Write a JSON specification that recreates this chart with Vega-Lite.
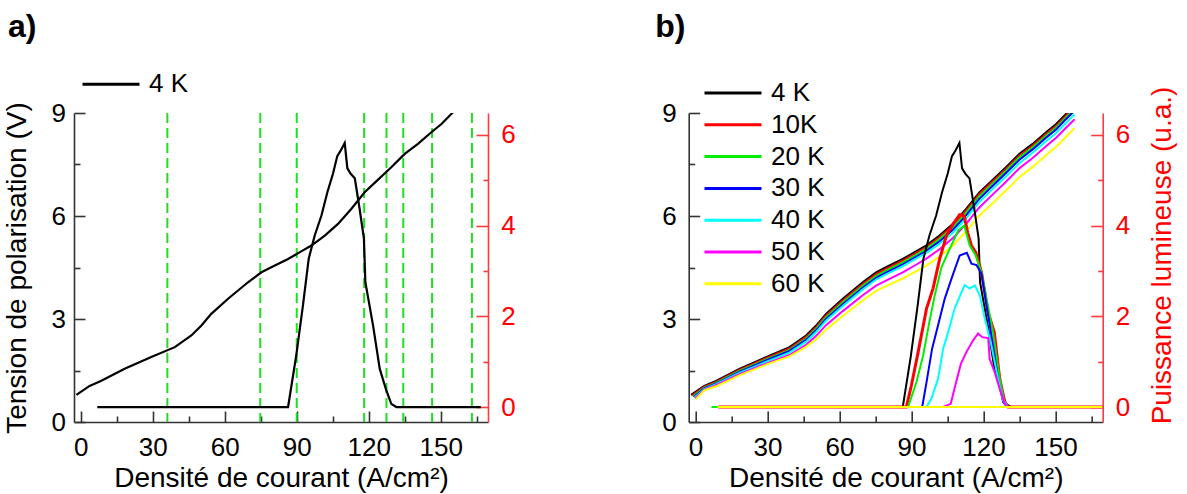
{
"$schema": "https://vega.github.io/schema/vega-lite/v6.json",
"background": "white",
"padding": {"left": 3, "top": 10, "right": 5, "bottom": 2},
"config": {
  "font": "Liberation Sans",
  "view": {"stroke": null},
  "axis": {"grid": false, "labelFontSize": 26, "titleFontSize": 28, "titleFontWeight": "normal", "labelColor": "#000000", "titleColor": "#000000", "domainWidth": 1.6, "tickWidth": 1.6, "labelFlush": false, "labelOverlap": false, "domainColor": "#333333", "tickColor": "#333333"},
  "legend": {"orient": "none", "symbolType": "stroke", "symbolSize": 3249, "symbolStrokeWidth": 3, "labelFontSize": 26, "labelOffset": 8, "clipHeight": 24, "rowPadding": 5.8, "padding": 0, "labelColor": "#000000"},
  "title": {"fontSize": 32, "fontWeight": "bold", "anchor": "start", "frame": "group", "color": "#000000"}
},
"datasets": {
  "lines": [{"J":36.1},{"J":74.8},{"J":90.0},{"J":118.1},{"J":127.4},{"J":134.4},{"J":146.4},{"J":163.0}],
  "volt": [
    {"T":"4 K","J":-1.8,"V":0.79},{"T":"4 K","J":3.7,"V":1.05},{"T":"4 K","J":8.6,"V":1.20},{"T":"4 K","J":18.3,"V":1.55},{"T":"4 K","J":29.4,"V":1.89},{"T":"4 K","J":39.2,"V":2.18},{"T":"4 K","J":46.1,"V":2.52},{"T":"4 K","J":50.3,"V":2.81},{"T":"4 K","J":54.4,"V":3.15},{"T":"4 K","J":61.4,"V":3.59},{"T":"4 K","J":69.7,"V":4.07},{"T":"4 K","J":75.3,"V":4.36},{"T":"4 K","J":79.4,"V":4.51},{"T":"4 K","J":86.4,"V":4.75},{"T":"4 K","J":91.9,"V":4.97},{"T":"4 K","J":96.1,"V":5.14},{"T":"4 K","J":101.7,"V":5.43},{"T":"4 K","J":107.2,"V":5.77},{"T":"4 K","J":112.8,"V":6.21},{"T":"4 K","J":118.3,"V":6.69},{"T":"4 K","J":123.9,"V":7.06},{"T":"4 K","J":129.4,"V":7.42},{"T":"4 K","J":135.0,"V":7.81},{"T":"4 K","J":140.5,"V":8.10},{"T":"4 K","J":146.1,"V":8.44},{"T":"4 K","J":150.3,"V":8.68},{"T":"4 K","J":154.4,"V":8.97},{"T":"4 K","J":158.0,"V":9.22},
    {"T":"10K","J":-1.4,"V":0.77},{"T":"10K","J":3.7,"V":1.03},{"T":"10K","J":8.6,"V":1.17},{"T":"10K","J":18.3,"V":1.52},{"T":"10K","J":29.4,"V":1.86},{"T":"10K","J":39.2,"V":2.14},{"T":"10K","J":46.1,"V":2.48},{"T":"10K","J":50.3,"V":2.76},{"T":"10K","J":54.4,"V":3.10},{"T":"10K","J":61.4,"V":3.54},{"T":"10K","J":69.7,"V":4.02},{"T":"10K","J":75.3,"V":4.31},{"T":"10K","J":79.4,"V":4.46},{"T":"10K","J":86.4,"V":4.70},{"T":"10K","J":91.9,"V":4.92},{"T":"10K","J":96.1,"V":5.09},{"T":"10K","J":101.7,"V":5.38},{"T":"10K","J":107.2,"V":5.72},{"T":"10K","J":112.8,"V":6.16},{"T":"10K","J":118.3,"V":6.64},{"T":"10K","J":123.9,"V":7.01},{"T":"10K","J":129.4,"V":7.37},{"T":"10K","J":135.0,"V":7.76},{"T":"10K","J":140.5,"V":8.05},{"T":"10K","J":146.1,"V":8.39},{"T":"10K","J":150.3,"V":8.63},{"T":"10K","J":154.4,"V":8.92},{"T":"10K","J":158.0,"V":9.17},
    {"T":"20 K","J":-1.0,"V":0.75},{"T":"20 K","J":3.7,"V":1.00},{"T":"20 K","J":8.6,"V":1.14},{"T":"20 K","J":18.3,"V":1.49},{"T":"20 K","J":29.4,"V":1.82},{"T":"20 K","J":39.2,"V":2.10},{"T":"20 K","J":46.1,"V":2.43},{"T":"20 K","J":50.3,"V":2.72},{"T":"20 K","J":54.4,"V":3.05},{"T":"20 K","J":61.4,"V":3.49},{"T":"20 K","J":69.7,"V":3.97},{"T":"20 K","J":75.3,"V":4.26},{"T":"20 K","J":79.4,"V":4.41},{"T":"20 K","J":86.4,"V":4.65},{"T":"20 K","J":91.9,"V":4.87},{"T":"20 K","J":96.1,"V":5.04},{"T":"20 K","J":101.7,"V":5.33},{"T":"20 K","J":107.2,"V":5.66},{"T":"20 K","J":112.8,"V":6.10},{"T":"20 K","J":118.3,"V":6.58},{"T":"20 K","J":123.9,"V":6.95},{"T":"20 K","J":129.4,"V":7.32},{"T":"20 K","J":135.0,"V":7.71},{"T":"20 K","J":140.5,"V":8.00},{"T":"20 K","J":146.1,"V":8.34},{"T":"20 K","J":150.3,"V":8.58},{"T":"20 K","J":154.4,"V":8.87},{"T":"20 K","J":158.0,"V":9.12},
    {"T":"30 K","J":-0.7,"V":0.73},{"T":"30 K","J":3.7,"V":0.98},{"T":"30 K","J":8.6,"V":1.12},{"T":"30 K","J":18.3,"V":1.46},{"T":"30 K","J":29.4,"V":1.79},{"T":"30 K","J":39.2,"V":2.07},{"T":"30 K","J":46.1,"V":2.39},{"T":"30 K","J":50.3,"V":2.67},{"T":"30 K","J":54.4,"V":3.00},{"T":"30 K","J":61.4,"V":3.43},{"T":"30 K","J":69.7,"V":3.91},{"T":"30 K","J":75.3,"V":4.20},{"T":"30 K","J":79.4,"V":4.35},{"T":"30 K","J":86.4,"V":4.59},{"T":"30 K","J":91.9,"V":4.81},{"T":"30 K","J":96.1,"V":4.98},{"T":"30 K","J":101.7,"V":5.26},{"T":"30 K","J":107.2,"V":5.59},{"T":"30 K","J":112.8,"V":6.02},{"T":"30 K","J":118.3,"V":6.50},{"T":"30 K","J":123.9,"V":6.88},{"T":"30 K","J":129.4,"V":7.25},{"T":"30 K","J":135.0,"V":7.64},{"T":"30 K","J":140.5,"V":7.94},{"T":"30 K","J":146.1,"V":8.28},{"T":"30 K","J":150.3,"V":8.52},{"T":"30 K","J":154.4,"V":8.82},{"T":"30 K","J":158.0,"V":9.07},
    {"T":"40 K","J":-0.4,"V":0.71},{"T":"40 K","J":3.7,"V":0.96},{"T":"40 K","J":8.6,"V":1.10},{"T":"40 K","J":18.3,"V":1.43},{"T":"40 K","J":29.4,"V":1.75},{"T":"40 K","J":39.2,"V":2.02},{"T":"40 K","J":46.1,"V":2.34},{"T":"40 K","J":50.3,"V":2.62},{"T":"40 K","J":54.4,"V":2.95},{"T":"40 K","J":61.4,"V":3.38},{"T":"40 K","J":69.7,"V":3.86},{"T":"40 K","J":75.3,"V":4.15},{"T":"40 K","J":79.4,"V":4.30},{"T":"40 K","J":86.4,"V":4.54},{"T":"40 K","J":91.9,"V":4.76},{"T":"40 K","J":96.1,"V":4.92},{"T":"40 K","J":101.7,"V":5.19},{"T":"40 K","J":107.2,"V":5.51},{"T":"40 K","J":112.8,"V":5.93},{"T":"40 K","J":118.3,"V":6.41},{"T":"40 K","J":123.9,"V":6.79},{"T":"40 K","J":129.4,"V":7.15},{"T":"40 K","J":135.0,"V":7.54},{"T":"40 K","J":140.5,"V":7.84},{"T":"40 K","J":146.1,"V":8.18},{"T":"40 K","J":150.3,"V":8.42},{"T":"40 K","J":154.4,"V":8.71},{"T":"40 K","J":158.0,"V":8.96},
    {"T":"50 K","J":-0.1,"V":0.69},{"T":"50 K","J":3.7,"V":0.94},{"T":"50 K","J":8.6,"V":1.07},{"T":"50 K","J":18.3,"V":1.39},{"T":"50 K","J":29.4,"V":1.70},{"T":"50 K","J":39.2,"V":1.95},{"T":"50 K","J":46.1,"V":2.25},{"T":"50 K","J":50.3,"V":2.51},{"T":"50 K","J":54.4,"V":2.82},{"T":"50 K","J":61.4,"V":3.23},{"T":"50 K","J":69.7,"V":3.69},{"T":"50 K","J":75.3,"V":3.97},{"T":"50 K","J":79.4,"V":4.12},{"T":"50 K","J":86.4,"V":4.36},{"T":"50 K","J":91.9,"V":4.58},{"T":"50 K","J":96.1,"V":4.75},{"T":"50 K","J":101.7,"V":5.03},{"T":"50 K","J":107.2,"V":5.35},{"T":"50 K","J":112.8,"V":5.77},{"T":"50 K","J":118.3,"V":6.25},{"T":"50 K","J":123.9,"V":6.63},{"T":"50 K","J":129.4,"V":7.00},{"T":"50 K","J":135.0,"V":7.39},{"T":"50 K","J":140.5,"V":7.69},{"T":"50 K","J":146.1,"V":8.03},{"T":"50 K","J":150.3,"V":8.28},{"T":"50 K","J":154.4,"V":8.57},{"T":"50 K","J":158.0,"V":8.82},
    {"T":"60 K","J":0.2,"V":0.67},{"T":"60 K","J":3.7,"V":0.92},{"T":"60 K","J":8.6,"V":1.04},{"T":"60 K","J":18.3,"V":1.36},{"T":"60 K","J":29.4,"V":1.67},{"T":"60 K","J":39.2,"V":1.91},{"T":"60 K","J":46.1,"V":2.19},{"T":"60 K","J":50.3,"V":2.41},{"T":"60 K","J":54.4,"V":2.69},{"T":"60 K","J":61.4,"V":3.09},{"T":"60 K","J":69.7,"V":3.54},{"T":"60 K","J":75.3,"V":3.82},{"T":"60 K","J":79.4,"V":3.96},{"T":"60 K","J":86.4,"V":4.18},{"T":"60 K","J":91.9,"V":4.39},{"T":"60 K","J":96.1,"V":4.55},{"T":"60 K","J":101.7,"V":4.82},{"T":"60 K","J":107.2,"V":5.13},{"T":"60 K","J":112.8,"V":5.55},{"T":"60 K","J":118.3,"V":6.01},{"T":"60 K","J":123.9,"V":6.37},{"T":"60 K","J":129.4,"V":6.74},{"T":"60 K","J":135.0,"V":7.13},{"T":"60 K","J":140.5,"V":7.43},{"T":"60 K","J":146.1,"V":7.77},{"T":"60 K","J":150.3,"V":8.02},{"T":"60 K","J":154.4,"V":8.31},{"T":"60 K","J":158.0,"V":8.56}
  ],
  "pow": [
    {"T":"4 K","J":6.9,"P":0},{"T":"4 K","J":86.4,"P":0},{"T":"4 K","J":89.8,"P":1.14},{"T":"4 K","J":92.6,"P":2.24},{"T":"4 K","J":95.0,"P":3.27},{"T":"4 K","J":97.5,"P":3.78},{"T":"4 K","J":100.3,"P":4.22},{"T":"4 K","J":102.8,"P":4.74},{"T":"4 K","J":105.1,"P":5.14},{"T":"4 K","J":106.9,"P":5.53},{"T":"4 K","J":108.3,"P":5.65},{"T":"4 K","J":110.0,"P":5.82},{"T":"4 K","J":111.1,"P":5.26},{"T":"4 K","J":112.5,"P":5.14},{"T":"4 K","J":114.2,"P":5.04},{"T":"4 K","J":116.2,"P":4.37},{"T":"4 K","J":118.0,"P":3.71},{"T":"4 K","J":118.6,"P":2.75},{"T":"4 K","J":121.8,"P":1.80},{"T":"4 K","J":124.6,"P":0.84},{"T":"4 K","J":127.3,"P":0.37},{"T":"4 K","J":129.4,"P":0.07},{"T":"4 K","J":131.5,"P":0},{"T":"4 K","J":166.7,"P":0},
    {"T":"10K","J":9.5,"P":0},{"T":"10K","J":87.9,"P":0},{"T":"10K","J":90.0,"P":0.48},{"T":"10K","J":92.8,"P":1.21},{"T":"10K","J":96.3,"P":2.17},{"T":"10K","J":99.0,"P":2.61},{"T":"10K","J":101.8,"P":3.27},{"T":"10K","J":104.6,"P":3.78},{"T":"10K","J":107.4,"P":4.04},{"T":"10K","J":110.1,"P":4.24},{"T":"10K","J":112.0,"P":4.21},{"T":"10K","J":113.4,"P":3.85},{"T":"10K","J":115.0,"P":3.56},{"T":"10K","J":116.8,"P":3.41},{"T":"10K","J":119.2,"P":2.97},{"T":"10K","J":121.9,"P":2.09},{"T":"10K","J":124.5,"P":1.65},{"T":"10K","J":126.8,"P":0.62},{"T":"10K","J":128.9,"P":0.11},{"T":"10K","J":130.3,"P":0},{"T":"10K","J":169.5,"P":0},
    {"T":"20 K","J":6.7,"P":0},{"T":"20 K","J":88.6,"P":0},{"T":"20 K","J":92.1,"P":0.55},{"T":"20 K","J":94.9,"P":1.14},{"T":"20 K","J":97.2,"P":1.80},{"T":"20 K","J":99.7,"P":2.46},{"T":"20 K","J":102.5,"P":3.08},{"T":"20 K","J":106.0,"P":3.49},{"T":"20 K","J":109.5,"P":3.89},{"T":"20 K","J":112.0,"P":4.00},{"T":"20 K","J":114.3,"P":3.56},{"T":"20 K","J":116.8,"P":3.34},{"T":"20 K","J":119.2,"P":2.97},{"T":"20 K","J":121.3,"P":2.39},{"T":"20 K","J":124.0,"P":1.65},{"T":"20 K","J":126.8,"P":0.62},{"T":"20 K","J":128.9,"P":0.05},{"T":"20 K","J":130.3,"P":0},{"T":"20 K","J":169.5,"P":0},
    {"T":"30 K","J":9.5,"P":0},{"T":"30 K","J":94.5,"P":0},{"T":"30 K","J":96.3,"P":0.55},{"T":"30 K","J":98.6,"P":1.28},{"T":"30 K","J":101.1,"P":1.80},{"T":"30 K","J":103.9,"P":2.39},{"T":"30 K","J":106.7,"P":2.83},{"T":"30 K","J":110.1,"P":3.34},{"T":"30 K","J":113.1,"P":3.40},{"T":"30 K","J":115.0,"P":3.16},{"T":"30 K","J":117.1,"P":3.13},{"T":"30 K","J":119.2,"P":2.94},{"T":"30 K","J":121.3,"P":2.24},{"T":"30 K","J":124.0,"P":1.36},{"T":"30 K","J":126.1,"P":0.62},{"T":"30 K","J":128.2,"P":0.11},{"T":"30 K","J":130.3,"P":0},{"T":"30 K","J":169.5,"P":0},
    {"T":"40 K","J":9.5,"P":0},{"T":"40 K","J":96.3,"P":0},{"T":"40 K","J":98.3,"P":0.18},{"T":"40 K","J":101.1,"P":0.62},{"T":"40 K","J":103.2,"P":1.28},{"T":"40 K","J":105.3,"P":1.65},{"T":"40 K","J":108.0,"P":2.17},{"T":"40 K","J":110.9,"P":2.53},{"T":"40 K","J":112.2,"P":2.69},{"T":"40 K","J":114.3,"P":2.61},{"T":"40 K","J":116.4,"P":2.68},{"T":"40 K","J":118.5,"P":2.46},{"T":"40 K","J":120.6,"P":1.95},{"T":"40 K","J":123.3,"P":1.36},{"T":"40 K","J":126.1,"P":0.62},{"T":"40 K","J":128.2,"P":0.15},{"T":"40 K","J":130.3,"P":0},{"T":"40 K","J":169.5,"P":0},
    {"T":"50 K","J":9.5,"P":0},{"T":"50 K","J":103.2,"P":0},{"T":"50 K","J":106.4,"P":0.07},{"T":"50 K","J":108.3,"P":0.48},{"T":"50 K","J":110.6,"P":0.95},{"T":"50 K","J":112.9,"P":1.21},{"T":"50 K","J":115.7,"P":1.47},{"T":"50 K","J":117.8,"P":1.62},{"T":"50 K","J":119.5,"P":1.54},{"T":"50 K","J":122.0,"P":1.52},{"T":"50 K","J":122.6,"P":1.06},{"T":"50 K","J":124.7,"P":0.77},{"T":"50 K","J":126.8,"P":0.40},{"T":"50 K","J":128.9,"P":0.07},{"T":"50 K","J":130.3,"P":0},{"T":"50 K","J":169.5,"P":0},
    {"T":"60 K","J":9.2,"P":0},{"T":"60 K","J":169.5,"P":0}
  ]
},
"spacing": 200.7,
"bounds": "flush",
"resolve": {"scale": {"color": "independent"}},
"hconcat": [
  {
    "width": 414, "height": 309,
    "title": {"text": "a)", "dx": -66, "offset": 28.7},
    "encoding": {"x": {"field": "J", "type": "quantitative", "scale": {"domain": [-2.8, 169.7], "nice": false, "zero": false},
      "axis": {"values": [0,15,30,45,60,75,90,105,120,135,150,165], "labelExpr": "datum.value % 30 === 0 ? format(datum.value, 'd') : ''", "tickSize": -11, "tickDash": {"condition": {"test": "datum.value % 30 === 0", "value": [20, 1]}, "value": [6, 30]}, "labelPadding": 23, "title": "Densité de courant (A/cm²)", "titlePadding": 4}}},
    "layer": [
      {"data": {"name": "lines"}, "mark": {"type": "rule", "color": "#22dd22", "strokeWidth": 2, "strokeDash": [10, 5]}, "encoding": {}},
      {"data": {"name": "volt"}, "transform": [{"filter": "datum.T === '4 K'"}], "mark": {"type": "line", "strokeWidth": 2.2, "clip": true},
       "encoding": {
         "y": {"field": "V", "type": "quantitative", "scale": {"domain": [0, 9], "nice": false, "zero": false},
           "axis": {"orient": "left", "values": [0,1.5,3,4.5,6,7.5,9], "labelExpr": "datum.value % 3 === 0 ? format(datum.value, 'd') : ''", "tickSize": -11, "tickDash": {"condition": {"test": "datum.value % 3 === 0", "value": [20, 1]}, "value": [6, 30]}, "labelPadding": 19.6, "title": "Tension de polarisation (V)", "titlePadding": 19}},
         "color": {"field": "T", "type": "nominal", "scale": {"domain": ["4 K"], "range": ["#000000"]}, "legend": {"title": null, "orient": "none", "legendX": 7, "legendY": -40.7}}
       }},
      {"data": {"name": "pow"}, "transform": [{"filter": "datum.T === '4 K'"}], "mark": {"type": "line", "strokeWidth": 2.2},
       "encoding": {
         "y": {"field": "P", "type": "quantitative", "scale": {"domain": [-0.33, 6.48], "nice": false, "zero": false},
           "axis": {"orient": "right", "values": [0,1,2,3,4,5,6], "labelExpr": "datum.value % 2 === 0 ? format(datum.value, 'd') : ''", "tickSize": -12, "tickDash": {"condition": {"test": "datum.value % 2 === 0", "value": [20, 1]}, "value": [5, 30]}, "labelPadding": 24.7, "title": null, "domainColor": "#ff3b3b", "tickColor": "#ff3b3b", "labelColor": "#ff0000"}},
         "color": {"field": "T", "type": "nominal", "scale": {"domain": ["4 K"], "range": ["#000000"]}, "legend": {"title": null, "orient": "none", "legendX": 7, "legendY": -40.7}}
       }}
    ],
    "resolve": {"scale": {"y": "independent"}}
  },
  {
    "width": 414, "height": 309,
    "title": {"text": "b)", "dx": -33.5, "offset": 37.4},
    "encoding": {"x": {"field": "J", "type": "quantitative", "scale": {"domain": [-2.8, 169.7], "nice": false, "zero": false},
      "axis": {"values": [0,15,30,45,60,75,90,105,120,135,150,165], "labelExpr": "datum.value % 30 === 0 ? format(datum.value, 'd') : ''", "tickSize": -11, "tickDash": {"condition": {"test": "datum.value % 30 === 0", "value": [20, 1]}, "value": [6, 30]}, "labelPadding": 23, "title": "Densité de courant (A/cm²)", "titlePadding": 4}}},
    "layer": [
      {"data": {"name": "volt"}, "mark": {"type": "line", "strokeWidth": 2, "clip": true},
       "encoding": {
         "y": {"field": "V", "type": "quantitative", "scale": {"domain": [0, 9], "nice": false, "zero": false},
           "axis": {"orient": "left", "values": [0,1.5,3,4.5,6,7.5,9], "labelExpr": "datum.value % 3 === 0 ? format(datum.value, 'd') : ''", "tickSize": -11, "tickDash": {"condition": {"test": "datum.value % 3 === 0", "value": [20, 1]}, "value": [6, 30]}, "labelPadding": 23.4, "title": null}},
         "color": {"field": "T", "type": "nominal", "scale": {"domain": ["4 K","10K","20 K","30 K","40 K","50 K","60 K"], "range": ["#000000","#ff0000","#00ee00","#0000ff","#00ffff","#ff00ff","#ffff00"]}, "legend": {"title": null, "orient": "none", "legendX": 14.3, "legendY": -32}}
       }},
      {"data": {"name": "pow"}, "mark": {"type": "line", "clip": true},
       "encoding": {
         "y": {"field": "P", "type": "quantitative", "scale": {"domain": [-0.33, 6.48], "nice": false, "zero": false},
           "axis": {"orient": "right", "values": [0,1,2,3,4,5,6], "labelExpr": "datum.value % 2 === 0 ? format(datum.value, 'd') : ''", "tickSize": -12, "tickDash": {"condition": {"test": "datum.value % 2 === 0", "value": [20, 1]}, "value": [5, 30]}, "labelPadding": 24.5, "title": "Puissance lumineuse (u.a.)", "titleColor": "#ff0000", "titleAngle": 270, "titleBaseline": "top", "titleAlign": "center", "titleX": 46, "titleY": 142, "domainColor": "#ff3b3b", "tickColor": "#ff3b3b", "labelColor": "#ff0000"}},
         "color": {"field": "T", "type": "nominal", "scale": {"domain": ["4 K","10K","20 K","30 K","40 K","50 K","60 K"], "range": ["#000000","#ff0000","#00ee00","#0000ff","#00ffff","#ff00ff","#ffff00"]}, "legend": {"title": null, "orient": "none", "legendX": 14.3, "legendY": -32}},
         "strokeWidth": {"condition": {"test": "datum.T === '10K'", "value": 3}, "value": 2}
       }}
    ],
    "resolve": {"scale": {"y": "independent"}}
  }
]
}
